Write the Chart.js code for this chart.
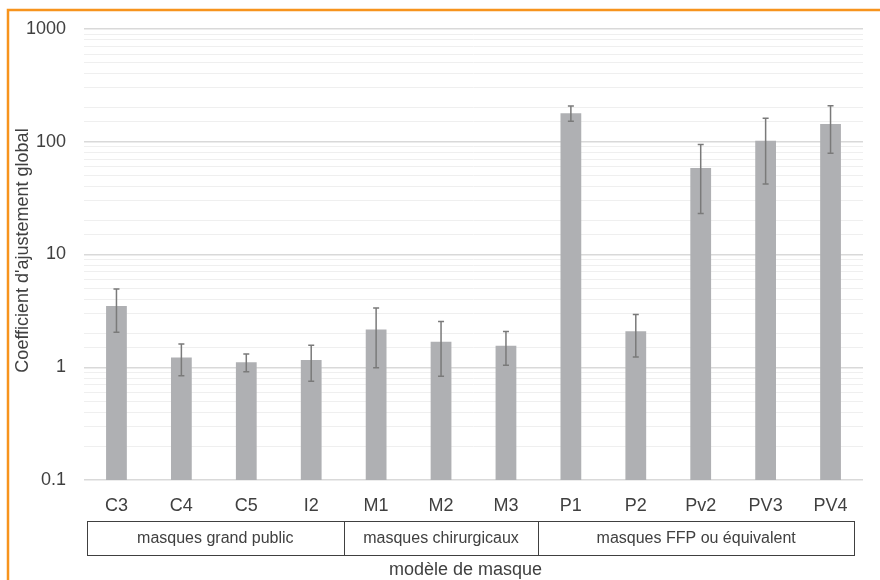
<!DOCTYPE html>
<html>
<head>
<meta charset="utf-8">
<script src="https://cdn.jsdelivr.net/npm/chart.js@4/dist/chart.umd.min.js"></script>
<style>
  html, body { margin: 0; padding: 0; background: #fff; }
  #wrap { width: 880px; height: 580px; position: relative; }
</style>
</head>
<body>
<div id="wrap"><canvas id="maskChart" width="880" height="580"></canvas></div>
<script>
// data
const categories = ['C3', 'C4', 'C5', 'I2', 'M1', 'M2', 'M3', 'P1', 'P2', 'Pv2', 'PV3', 'PV4'];
const fitValues = [3.5, 1.22, 1.11, 1.16, 2.16, 1.68, 1.55, 179, 2.09, 58.6, 102, 144];
const errLow = [2.04, 0.84, 0.91, 0.75, 0.99, 0.83, 1.04, 152, 1.23, 23.1, 42.2, 79];
const errHigh = [4.95, 1.61, 1.31, 1.57, 3.36, 2.54, 2.07, 208, 2.93, 94.4, 162, 209];
const groupLabels = ['masques grand public', 'masques chirurgicaux', 'masques FFP ou équivalent'];
const groupSizes = [4, 3, 5];
const yTickLabels = ['0.1', '1', '10', '100', '1000'];

const FONT = "'Liberation Sans', Arial, sans-serif";
const TEXT = '#404040';

function isDecade(v) {
    const l = Math.log10(v);
    return Math.abs(l - Math.round(l)) < 1e-9;
}

const frame = {
    id: 'frame',
    beforeDraw(chart) {
        const ctx = chart.ctx;
        ctx.save();
        ctx.fillStyle = '#fff';
        ctx.fillRect(0, 0, chart.width, chart.height);
        ctx.strokeStyle = '#f7941d';
        ctx.lineWidth = 2.5;
        ctx.beginPath();
        ctx.moveTo(8, chart.height);
        ctx.lineTo(8, 10);
        ctx.lineTo(chart.width, 10);
        ctx.stroke();
        ctx.restore();
    },
};

const errorBars = {
    id: 'errorBars',
    afterDatasetsDraw(chart) {
        const ctx = chart.ctx;
        const meta = chart.getDatasetMeta(0);
        const y = chart.scales.y;
        ctx.save();
        ctx.strokeStyle = '#7a7a7a';
        ctx.lineWidth = 1.5;
        meta.data.forEach((bar, i) => {
            const x = bar.x;
            const yl = y.getPixelForValue(errLow[i]);
            const yh = y.getPixelForValue(errHigh[i]);
            ctx.beginPath();
            ctx.moveTo(x, yl); ctx.lineTo(x, yh);
            ctx.moveTo(x - 3, yl); ctx.lineTo(x + 3, yl);
            ctx.moveTo(x - 3, yh); ctx.lineTo(x + 3, yh);
            ctx.stroke();
        });
        ctx.restore();
    },
};

const groupBoxes = {
    id: 'groupBoxes',
    afterDraw(chart) {
        const ctx = chart.ctx;
        const x = chart.scales.x;
        const area = chart.chartArea;
        const step = (x.right - x.left) / categories.length;
        const top = 521, bottom = 555;
        const left = x.left + 3, right = x.right - 9;
        ctx.save();
        ctx.strokeStyle = '#404040';
        ctx.lineWidth = 1;
        ctx.strokeRect(left + 0.5, top + 0.5, right - left, bottom - top);
        ctx.fillStyle = TEXT;
        ctx.font = '16px ' + FONT;
        ctx.textAlign = 'center';
        ctx.textBaseline = 'middle';
        let start = 0;
        groupSizes.forEach((n, g) => {
            const a = Math.max(left, x.left + start * step);
            const b = Math.min(right, x.left + (start + n) * step);
            if (start > 0) {
                const px = Math.round(a) + 0.5;
                ctx.beginPath();
                ctx.moveTo(px, top);
                ctx.lineTo(px, bottom);
                ctx.stroke();
            }
            ctx.fillText(groupLabels[g], (a + b) / 2, (top + bottom) / 2 + 1);
            start += n;
        });
        ctx.font = '18px ' + FONT;
        ctx.fillText('modèle de masque', (x.left + x.right) / 2 - 8, 570);

        // y axis title
        ctx.translate(23, (area.top + area.bottom) / 2 - 4);
        ctx.rotate(-Math.PI / 2);
        ctx.fillText("Coefficient d'ajustement global", 0, 0);
        ctx.restore();
    },
};

new Chart(document.getElementById('maskChart'), {
    type: 'bar',
    data: {
        labels: categories,
        datasets: [{
            data: fitValues,
            backgroundColor: '#afb0b3',
            barPercentage: 0.32,
            categoryPercentage: 1,
        }],
    },
    options: {
        responsive: false,
        animation: false,
        devicePixelRatio: 1,
        layout: { padding: { top: 29, right: 17, left: 0, bottom: 0 } },
        plugins: {
            legend: { display: false },
            tooltip: { enabled: false },
        },
        scales: {
            x: {
                grid: { display: false, drawTicks: false },
                border: { display: false },
                ticks: { color: TEXT, font: { family: FONT, size: 18 }, padding: 15, maxRotation: 0 },
                afterFit(scale) { scale.height = 100; },
            },
            y: {
                type: 'logarithmic',
                min: 0.1,
                max: 1000,
                border: { display: false },
                grid: {
                    drawTicks: false,
                    color: (c) => c.tick && isDecade(c.tick.value) ? '#d9d9d9' : '#efefef',
                    lineWidth: (c) => c.tick && isDecade(c.tick.value) ? 1.5 : 1,
                },
                ticks: {
                    autoSkip: false,
                    color: TEXT,
                    font: { family: FONT, size: 18 },
                    padding: 18,
                    callback: (v) => {
                        const s = String(Math.round(v * 10) / 10);
                        return isDecade(v) && yTickLabels.includes(s) ? s : '';
                    },
                },
                afterFit(scale) { scale.width = 84; },
            },
        },
    },
    plugins: [frame, errorBars, groupBoxes],
});
</script>
</body>
</html>
